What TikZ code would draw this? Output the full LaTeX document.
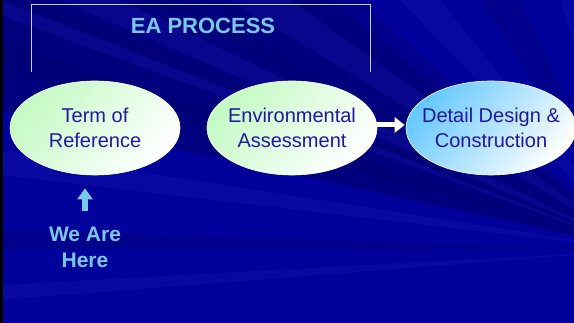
\documentclass[tikz,border=0pt]{standalone}
\usepackage{fontspec}
\setmainfont{Liberation Sans}
\usetikzlibrary{arrows.meta,positioning,shapes.geometric}
\definecolor{navy}{HTML}{00009A}
\definecolor{deepnavy}{HTML}{00006C}
\definecolor{ray}{HTML}{1A1AB8}
\definecolor{ink}{HTML}{2218A0}
\definecolor{sky}{HTML}{78C8EA}
\definecolor{mint}{HTML}{C4FAC4}
\definecolor{aqua}{HTML}{66C8FF}
\definecolor{rule}{HTML}{C8CCE0}
\tikzset{
  stage/.style={ellipse,draw=white,line width=0.6pt,minimum width=170pt,minimum height=94pt,inner xsep=-22pt,inner ysep=0pt,
    align=center,font=\fontsize{20}{25}\selectfont,text=ink,top color=#1,bottom color=white,shading angle=50},
  heading/.style={font=\bfseries\fontsize{22}{26}\selectfont,text=sky},
  flowarrow/.style={-{Triangle[width=15pt,length=10pt]},line width=5pt,draw=white},
  herearrow/.style={-{Triangle[width=15pt,length=11pt]},line width=6pt,draw=sky},
  streak/.style={fill=#1,fill opacity=0.28,draw=none}
}
\begin{document}
\begin{tikzpicture}[x=1pt,y=-1pt]
  \useasboundingbox (0,0) rectangle (574,323);
  % backdrop with faint rays
  \begin{scope}
    \clip (0,0) rectangle (574,323);
    \fill[navy] (0,0) rectangle (574,323);
    \fill[deepnavy,opacity=0.6] (0,0) -- (330,0) -- (640,250) -- (0,110) -- cycle;
    \foreach \a/\b/\c in {0/40/deepnavy,60/120/ray,150/175/deepnavy,230/290/ray,330/360/deepnavy,
        400/440/ray,480/520/deepnavy,560/600/ray} {
      \fill[streak=\c] (640,250) -- (\a,0) -- (\b,0) -- cycle;
    }
    \foreach \a/\b/\c in {0/15/ray,40/70/deepnavy,150/175/ray,230/250/deepnavy,285/300/ray} {
      \fill[streak=\c] (640,250) -- (0,\a) -- (0,\b) -- cycle;
    }
    \fill[black] (0,0) rectangle (3,323);
  \end{scope}

  % bracket over the process stages
  \coordinate (bl) at (31.7,71.7);
  \coordinate (br) at (370,71.7);
  \draw[rule,line width=0.7pt] (bl) -- (31.7,4.7) -- (370,4.7) -- (br);
  \node[heading] (title) at (203,26) {EA PROCESS};

  \node[stage=mint] (term) at (95,128) {Term of\\Reference};
  \node[stage=mint] (assess) at (292,128) {Environmental\\Assessment};
  \node[stage=aqua] (design) at (491,128) {Detail Design \&\\Construction};
  \draw[flowarrow,shorten >=1pt] ([yshift=3pt]assess.east) -- ([yshift=3pt]design.west);

  \node[heading,align=center,font=\bfseries\fontsize{21}{26}\selectfont] (here) at (85,247) {We Are\\Here};
  \draw[herearrow] ([yshift=12pt]here.north) -- ([xshift=-10pt,yshift=-13pt]term.south);
\end{tikzpicture}
\end{document}
